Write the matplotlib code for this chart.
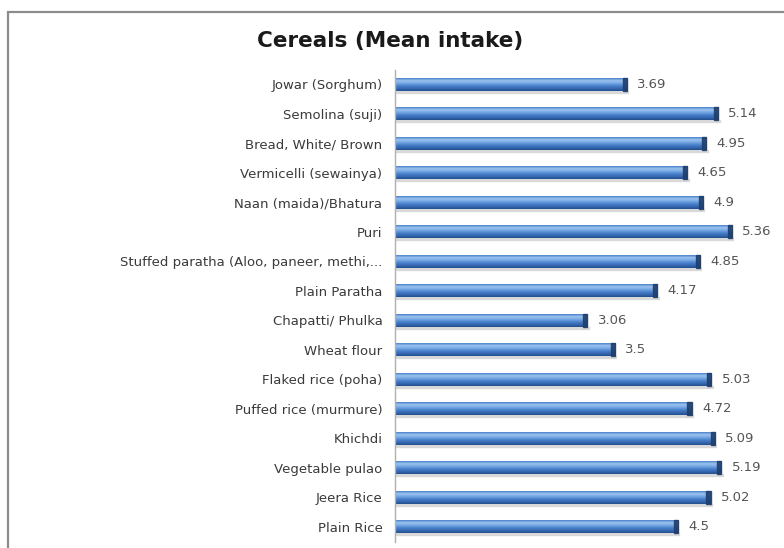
import numpy as np
import matplotlib.pyplot as plt
from matplotlib.patches import Rectangle
from matplotlib.colors import LinearSegmentedColormap

# Cereal items (top to bottom) and their mean intake
items = [
    "Jowar (Sorghum)",
    "Semolina (suji)",
    "Bread, White/ Brown",
    "Vermicelli (sewainya)",
    "Naan (maida)/Bhatura",
    "Puri",
    "Stuffed paratha (Aloo, paneer, methi,...",
    "Plain Paratha",
    "Chapatti/ Phulka",
    "Wheat flour",
    "Flaked rice (poha)",
    "Puffed rice (murmure)",
    "Khichdi",
    "Vegetable pulao",
    "Jeera Rice",
    "Plain Rice",
]
intake = [3.69, 5.14, 4.95, 4.65, 4.9, 5.36, 4.85, 4.17,
          3.06, 3.5, 5.03, 4.72, 5.09, 5.19, 5.02, 4.5]

W, H = 784, 548
fig = plt.figure(figsize=(W / 100, H / 100), dpi=100)
fig.patch.set_facecolor("white")

# chart area frame (runs off the right and bottom edges)
fig.patches.append(Rectangle((8 / W, -0.1), 1.2, 1 - 12 / H + 0.1,
                             transform=fig.transFigure, fill=False,
                             edgecolor="#8c8c8c", linewidth=1.6))

ax = fig.add_axes([395 / W, 1 - 541.5 / H, (765 - 395) / W, (541.5 - 69.5) / H])
ax.set_facecolor("none")

y = np.arange(len(items))
bars = ax.barh(y, intake, height=0.44, color="#3f7cc8", edgecolor="none",
               zorder=2)

# cylinder-like shading, listed top edge -> bottom edge of a bar
shade = LinearSegmentedColormap.from_list(
    "shade", ["#4a82cc", "#9cc4ef", "#76a8e3", "#4a82cd", "#3669b2", "#22508f"])
grad = np.linspace(0, 1, 64).reshape(-1, 1)
for b in bars:
    x0, y0 = b.get_x(), b.get_y()
    w, h = b.get_width(), b.get_height()
    # y axis is inverted, so y0 is the visual top of the bar
    im = ax.imshow(grad, cmap=shade, aspect="auto", origin="upper",
                   extent=[x0, x0 + w, y0 + h, y0], zorder=2)
    im.set_clip_path(b)
    # darker end cap
    ax.add_patch(Rectangle((x0 + w - 0.07, y0), 0.07, h, color="#1f3f6e",
                           zorder=3, alpha=0.9))
    # soft shadow under the bar
    ax.add_patch(Rectangle((x0 + 0.02, y0 + h), w, 0.06, color="#d4d4d4",
                           zorder=1, alpha=0.8))

for yi, v in zip(y, intake):
    ax.text(v + 0.16, yi, f"{v:g}", va="center", ha="left",
            fontsize=9.5, color="#555555")

ax.set_xlim(0, (765 - 395) / 62.9)
ax.set_ylim(len(items) - 0.5, -0.5)
ax.set_yticks(y)
ax.set_yticklabels(items, fontsize=9.5, color="#3a3a3a")
ax.tick_params(axis="y", length=0, pad=9)
ax.set_xticks([])
for s in ["top", "right", "bottom"]:
    ax.spines[s].set_visible(False)
ax.spines["left"].set_color("#b0b0b0")
ax.spines["left"].set_linewidth(1.0)

fig.text(390 / W, 1 - 41 / H, "Cereals (Mean intake)", ha="center",
         va="center", fontsize=15.5, fontweight="bold", color="#1a1a1a")

plt.savefig("out.png", dpi=100)
